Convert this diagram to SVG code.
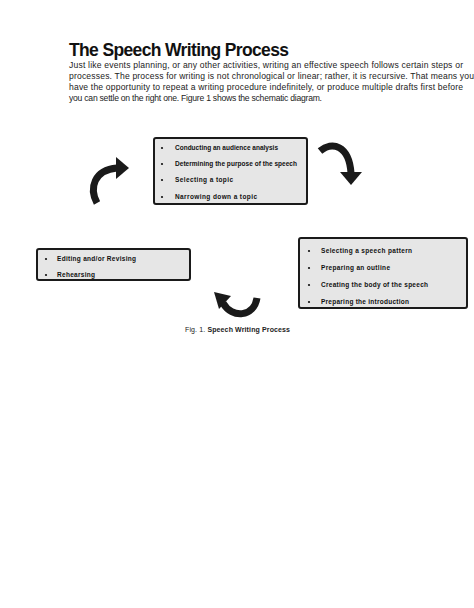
<svg xmlns="http://www.w3.org/2000/svg" width="474" height="608" viewBox="0 0 474 608">
<style>
.title{font-family:"Liberation Sans",Arial,sans-serif;font-weight:bold;font-size:17.5px;fill:#111}
.para{font-family:"Liberation Sans",Arial,sans-serif;font-size:8.6px;fill:#222}
.box{fill:#e6e6e6;stroke:#1a1a1a;stroke-width:2}
.item{font-family:"Liberation Sans",Arial,sans-serif;font-weight:bold;font-size:6.5px;fill:#111}
.bul{fill:#111}
.band{fill:none;stroke:#1a1a1a;stroke-width:7}
.head{fill:#1a1a1a}
.cap{font-family:"Liberation Sans",Arial,sans-serif;font-size:7px;fill:#222}
</style>
<rect width="474" height="608" fill="#fff"/>
<text class="title" x="69" y="56" textLength="220" lengthAdjust="spacing">The Speech Writing Process</text>
<g id="intro">
<text class="para" x="69" y="68" textLength="394" lengthAdjust="spacing">Just like events planning, or any other activities, writing an effective speech follows certain steps or</text>
<text class="para" x="69" y="79" textLength="405" lengthAdjust="spacing">processes. The process for writing is not chronological or linear; rather, it is recursive. That means you</text>
<text class="para" x="69" y="90" textLength="394" lengthAdjust="spacing">have the opportunity to repeat a writing procedure indefinitely, or produce multiple drafts first before</text>
<text class="para" x="69" y="101" textLength="253" lengthAdjust="spacing">you can settle on the right one. Figure 1 shows the schematic diagram.</text>
</g>
<g id="connectors">
<path class="band" d="M97 203 C89 188 94 170 117 168"/>
<polygon class="head" points="116,157 129,168 116,179"/>
<path class="band" d="M320 151 C332 141 349 145 351 173"/>
<polygon class="head" points="340,172 362,172 351,185"/>
<path class="band" d="M257 298 C254 317 232 319 223 303"/>
<polygon class="head" points="214,292 231,296 219,309"/>
</g>
<g id="node-planning">
<rect class="box" x="154" y="138" width="153" height="66" rx="2"/>
<circle class="bul" cx="162" cy="148" r="1.1"/>
<text class="item" x="175" y="150" textLength="103" lengthAdjust="spacing">Conducting an audience analysis</text>
<circle class="bul" cx="162" cy="164" r="1.1"/>
<text class="item" x="175" y="166" textLength="122" lengthAdjust="spacing">Determining the purpose of the speech</text>
<circle class="bul" cx="162" cy="180" r="1.1"/>
<text class="item" x="175" y="182" textLength="58" lengthAdjust="spacing">Selecting a topic</text>
<circle class="bul" cx="162" cy="197" r="1.1"/>
<text class="item" x="175" y="199" textLength="82" lengthAdjust="spacing">Narrowing down a topic</text>
</g>
<g id="node-drafting">
<rect class="box" x="299" y="238" width="168" height="70" rx="2"/>
<circle class="bul" cx="309" cy="251" r="1.1"/>
<text class="item" x="321" y="253" textLength="91" lengthAdjust="spacing">Selecting a speech pattern</text>
<circle class="bul" cx="309" cy="268" r="1.1"/>
<text class="item" x="321" y="270" textLength="69" lengthAdjust="spacing">Preparing an outline</text>
<circle class="bul" cx="309" cy="285" r="1.1"/>
<text class="item" x="321" y="287" textLength="107" lengthAdjust="spacing">Creating the body of the speech</text>
<circle class="bul" cx="309" cy="302" r="1.1"/>
<text class="item" x="321" y="304" textLength="88" lengthAdjust="spacing">Preparing the introduction</text>
</g>
<g id="node-revising">
<rect class="box" x="37" y="249" width="153" height="31" rx="2"/>
<circle class="bul" cx="46" cy="259" r="1.1"/>
<text class="item" x="57" y="261" textLength="79" lengthAdjust="spacing">Editing and/or Revising</text>
<circle class="bul" cx="46" cy="275" r="1.1"/>
<text class="item" x="57" y="277" textLength="38" lengthAdjust="spacing">Rehearsing</text>
</g>
<text class="cap" x="185" y="332" textLength="105" lengthAdjust="spacing">Fig. 1. <tspan font-weight="bold">Speech  Writing  Process</tspan></text>
</svg>
